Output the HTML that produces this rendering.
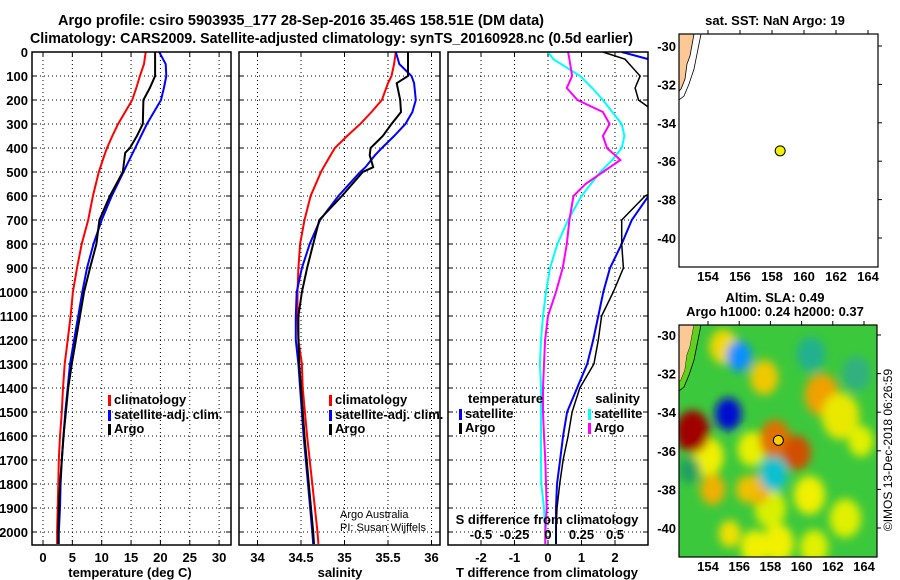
<!DOCTYPE html>
<html><head><meta charset="utf-8"><style>
body{margin:0;background:#fff;}
svg{display:block;font-family:"Liberation Sans",sans-serif;font-weight:bold;}
</style></head><body>
<svg id="c" width="900" height="580" xmlns="http://www.w3.org/2000/svg">
<rect width="900" height="580" fill="#fff"/>
<text x="58" y="25" font-size="15" textLength="486" lengthAdjust="spacingAndGlyphs">Argo profile: csiro 5903935_177 28-Sep-2016 35.46S 158.51E (DM data)</text>
<text x="30" y="43" font-size="15" textLength="603" lengthAdjust="spacingAndGlyphs">Climatology: CARS2009. Satellite-adjusted climatology: synTS_20160928.nc (0.5d earlier)</text>
<g id="g"></g>
</svg>
<script>
// ---- data ----
const depthT = [0,50,100,150,200,300,350,400,420,500,600,700,800,900,1000,1100,1200,1300,1400,1500,1600,1700,1800,1900,2000,2050];
const tempClim = [17.5,17.2,16.5,15.9,15.2,12.8,11.8,10.9,10.6,9.5,8.5,7.7,6.6,5.8,5.1,4.7,4.2,3.7,3.4,3.2,2.9,2.7,2.6,2.5,2.4,2.4];
const tempSat  = [19.8,20.9,21.0,20.6,20.1,17.7,16.7,15.7,15.3,13.7,11.7,10.0,8.6,7.5,6.7,6.0,5.3,4.6,4.2,3.8,3.5,3.2,3.0,2.9,2.7,2.7];
const tempArgo = [19.1,19.1,19.1,18.2,17.1,17.0,16.0,14.8,14.0,13.6,11.4,9.6,9.1,8.0,7.0,6.3,5.6,4.9,4.3,3.9,3.5,3.2,2.9,2.7,2.6,2.6];
const depthS = [0,50,100,130,200,250,300,350,400,430,480,500,600,700,800,900,1000,1100,1200,1300,1400,1600,1800,2000,2050];
const salClim = [35.59,35.57,35.54,35.5,35.43,35.31,35.18,35.03,34.89,34.84,34.76,34.73,34.61,34.54,34.49,34.47,34.46,34.46,34.47,34.51,34.52,34.57,34.63,34.69,34.7];
const salSat  = [35.59,35.63,35.77,35.8,35.82,35.78,35.7,35.57,35.43,35.35,35.24,35.18,34.93,34.72,34.6,34.51,34.45,34.44,34.44,34.47,34.49,34.53,34.58,34.63,34.64];
const salArgo = [35.73,35.73,35.73,35.6,35.64,35.65,35.54,35.44,35.3,35.29,35.33,35.21,34.97,34.71,34.64,34.57,34.51,34.47,34.47,34.48,34.5,34.54,34.59,34.64,34.65];
const depthD = [0,30,100,150,200,250,300,350,400,450,500,550,600,700,800,900,1000,1100,1200,1300,1400,1500,1600,1700,1800,1900,2000,2050];
const dTsat  = [2.2,3.0,3.5,3.6,3.6,3.6,3.6,3.6,3.6,3.6,3.6,3.6,3.0,2.5,2.2,1.85,1.65,1.5,1.35,1.17,0.87,0.57,0.45,0.36,0.27,0.24,0.24,0.24];
const dTargo = [1.64,2.3,2.75,2.6,2.7,3.2,3.6,3.6,3.6,3.6,3.6,3.6,2.9,2.2,2.2,2.25,1.95,1.6,1.5,1.37,0.95,0.72,0.6,0.45,0.35,0.27,0.24,0.24];
const dSsat  = [0,0.04,0.24,0.33,0.41,0.48,0.55,0.57,0.55,0.48,0.39,0.32,0.25,0.15,0.07,0.015,-0.015,-0.037,-0.052,-0.06,-0.052,-0.052,-0.052,-0.052,-0.05,-0.03,-0.02,-0.02];
const dSargo = [0.15,0.16,0.18,0.14,0.22,0.41,0.46,0.41,0.44,0.54,0.41,0.28,0.19,0.16,0.14,0.11,0.06,0,-0.022,-0.03,-0.037,-0.037,-0.03,-0.02,-0.015,-0.01,-0.02,-0.02];
const depthTicks = [0,100,200,300,400,500,600,700,800,900,1000,1100,1200,1300,1400,1500,1600,1700,1800,1900,2000];
const tempTicks = [0,5,10,15,20,25,30];
const salTicks = [34,34.5,35,35.5,36];
const salTickLabels = ["34","34.5","35","35.5","36"];
const dTTicks = [-2,-1,0,1,2];
const dSTicks = [-0.5,-0.25,0,0.25,0.5];
const dSTickLabels = ["-0.5","-0.25","0","0.25","0.5"];
const latTicks = [-30,-32,-34,-36,-38,-40];
const lonTicks = [154,156,158,160,162,164];
const floatLon = 158.51, floatLat = -35.46;
// SLA blobs: lon, lat, radius(deg), colour (drawn in order)
const blobLon = [154.0,156.8,158.0,160.5,162.8,157.0,155.0,157.6,161.3,162.5,154.3,157.2,160.8,163.8,158.5,155.4,156.5,152.8,153.0,155.3,156.0,158.3,159.7,158.2,160.6,163.5];
const blobLat = [-36.3,-35.9,-39.0,-38.3,-39.5,-41.0,-30.6,-32.2,-33.1,-34.2,-38.0,-38.0,-41.0,-35.5,-40.8,-40.3,-38.0,-37.0,-35.0,-34.1,-31.1,-35.4,-36.1,-37.2,-31.0,-32.0];
const blobR   = [1.0,0.9,1.0,1.0,1.0,0.9,0.9,0.9,1.1,1.2,0.8,0.8,0.9,0.8,1.0,0.7,0.7,0.7,1.1,0.85,0.8,1.0,0.9,0.9,0.9,0.9];
const blobC   = ["#f0f000","#e8f000","#d8f000","#f0f000","#e0f000","#f0f000","#f0d800","#f0c800","#f0a000","#e8e800","#f0b000","#f0b000","#e0f000","#e0f000","#f0f000","#f0e000","#f0c000","#20a060","#a00000","#0010d0","#1090ff","#e07000","#d05000","#10c0d0","#20b090","#30b080"];

const NS="http://www.w3.org/2000/svg";
const G=document.getElementById('g');
function el(tag,attrs,parent){const e=document.createElementNS(NS,tag);for(const k in attrs)e.setAttribute(k,attrs[k]);(parent||G).appendChild(e);return e;}
function txt(x,y,s,size,anchor,parent){const t=el('text',{x:x,y:y,'font-size':size,'text-anchor':anchor||'middle'},parent);t.textContent=s;return t;}

const TOP=52,BOT=545;
const yD=d=>TOP+d*0.24;

function panel(name,x0,x1,xs,ticks,labels,showDepth){
  const g=el('g',{});
  
  
  ticks.forEach(v=>{
    const X=xs(v);
    el('line',{x1:X,x2:X,y1:TOP,y2:BOT,stroke:'#000','stroke-width':1,'stroke-dasharray':'1,3'},g);
  });
  depthTicks.forEach(d=>{
    const Y=yD(d);
    el('line',{x1:x0,x2:x1,y1:Y,y2:Y,stroke:'#000','stroke-width':1,'stroke-dasharray':'1,3'},g);
    el('line',{x1:x0,x2:x0+5,y1:Y,y2:Y,stroke:'#000'},g);
    el('line',{x1:x1-5,x2:x1,y1:Y,y2:Y,stroke:'#000'},g);
    if(showDepth){const t=txt(28,Y+5,String(d),13,'end',g);
      
      }
  });
  if(labels){ticks.forEach((v,i)=>{
    const t=txt(xs(v),562,labels[i],13,'middle',g);
    
    
  });}
  ticks.forEach(v=>{const X=xs(v);
    el('line',{x1:X,x2:X,y1:BOT,y2:BOT-5,stroke:'#000'},g);
    el('line',{x1:X,x2:X,y1:TOP,y2:TOP+5,stroke:'#000'},g);});
  return g;
}
function line(g,depths,vals,xs,color,w,name,x0,x1){
  const cp='cp'+name;
  const c=el('clipPath',{id:cp},g);el('rect',{x:x0,y:TOP,width:x1-x0,height:BOT-TOP},c);
  const pts=depths.map((d,i)=>xs(vals[i]).toFixed(1)+','+yD(d).toFixed(1)).join(' ');
  const p=el('polyline',{points:pts,fill:'none',stroke:color,'stroke-width':w,'clip-path':'url(#'+cp+')'},g);
  
  
}
function frame(g,x0,x1){el('rect',{x:x0,y:TOP,width:x1-x0,height:BOT-TOP,fill:'none',stroke:'#000','stroke-width':1.5},g);}
function legend(g,x,y,color,label,name){
  el('rect',{x:x,y:y-9,width:3,height:11,fill:color},g);
  const t=txt(x+6,y,label,13,'start',g);
  
  
}

// Panel 1 temperature
const xT=v=>43+5.87*v;
const p1=panel('temperature-panel',32,231,xT,tempTicks,tempTicks.map(String),true);
line(p1,depthT,tempClim,xT,'#f00',2,'temp-climatology-line',32,231);
line(p1,depthT,tempSat,xT,'#00f',2,'temp-satellite-line',32,231);
line(p1,depthT,tempArgo,xT,'#000',2,'temp-argo-line',32,231);
frame(p1,32,231);
legend(p1,108,404,'#f00','climatology','legend-climatology');
legend(p1,108,419,'#00f','satellite-adj. clim.','legend-satellite');
legend(p1,108,433,'#000','Argo','legend-argo');
let t=txt(130,577,'temperature (deg C)',13,'middle',p1);



// Panel 2 salinity
const xS=v=>257.5+87*(v-34);
const p2=panel('salinity-panel',239,440,xS,salTicks,salTickLabels,false);
line(p2,depthS,salClim,xS,'#f00',2,'sal-climatology-line',239,440);
line(p2,depthS,salSat,xS,'#00f',2,'sal-satellite-line',239,440);
line(p2,depthS,salArgo,xS,'#000',2,'sal-argo-line',239,440);
frame(p2,239,440);
legend(p2,329,404,'#f00','climatology','legend-climatology');
legend(p2,329,419,'#00f','satellite-adj. clim.','legend-satellite');
legend(p2,329,433,'#000','Argo','legend-argo');
t=txt(340,518,'Argo Australia',11,'start',p2);t.setAttribute('font-weight','normal');


t=txt(340,531,'PI: Susan Wijffels',11,'start',p2);t.setAttribute('font-weight','normal');


t=txt(340,577,'salinity',13,'middle',p2);



// Panel 3 differences
const xDT=v=>548+33.5*v;
const xDS=v=>548+134*v;
const p3=panel('difference-panel',448,648,xDT,dTTicks,dTTicks.map(String),false);
line(p3,depthD,dSsat,xDS,'#0ff',2,'sal-diff-satellite-line',448,648);
line(p3,depthD,dSargo,xDS,'#f0f',2,'sal-diff-argo-line',448,648);
line(p3,depthD,dTsat,xDT,'#00f',2,'temp-diff-satellite-line',448,648);
line(p3,depthD,dTargo,xDT,'#000',1.5,'temp-diff-argo-line',448,648);
frame(p3,448,648);
t=txt(468,403,'temperature',13,'start',p3);


legend(p3,459,418,'#00f','satellite','legend-temp-satellite');
legend(p3,459,432,'#000','Argo','legend-temp-argo');
t=txt(640,403,'salinity',13,'end',p3);


legend(p3,588,418,'#0ff','satellite','legend-sal-satellite');
legend(p3,588,432,'#f0f','Argo','legend-sal-argo');
t=txt(547,524,'S difference from climatology',13,'middle',p3);


dSTicks.forEach((v,i)=>{const tt=txt(xDS(v),539,dSTickLabels[i],13,'middle',p3);
  
  });
t=txt(547,577,'T difference from climatology',13,'middle',p3);



// Maps
function map(name,x0,y0,x1,y1,lon154,lonPx,lat30,latPx,filled){
  const g=el('g',{});
  
  
  const X=lo=>lon154+(lo-154)*lonPx, Y=la=>lat30+(-30-la)*latPx;
  const cid='clip'+name;
  const c=el('clipPath',{id:cid},g);el('rect',{x:x0,y:y0,width:x1-x0,height:y1-y0},c);
  const inner=el('g',{'clip-path':'url(#'+cid+')'},g);
  if(filled){
    el('rect',{x:x0,y:y0,width:x1-x0,height:y1-y0,fill:'#3cc83c'},inner);
    const f=el('filter',{id:'blur'+name,x:'-50%',y:'-50%',width:'200%',height:'200%'},g);
    el('feGaussianBlur',{stdDeviation:4.5},f);
    const bg=el('g',{filter:'url(#blur'+name+')'},inner);
    blobLon.forEach((lo,i)=>{
      const r=blobR[i];
      const e=el('ellipse',{cx:X(lo),cy:Y(blobLat[i]),rx:r*lonPx,ry:r*latPx,fill:blobC[i]},bg);
      
      
    });
  }else{
    el('rect',{x:x0,y:y0,width:x1-x0,height:y1-y0,fill:'#fff'},inner);
  }
  const land=el('polygon',{points:`${x0},${y0} ${x0+15},${y0} ${x0+11},${y0+22} ${x0+8},${y0+30} ${x0+6},${y0+45} ${x0+2},${y0+55} ${x0},${y0+57}`,fill:'#fcc896',stroke:'#000','stroke-width':0.8},inner);
  
  
  if(filled) el('polygon',{points:`${x0+15},${y0} ${x0+22},${y0} ${x0+18},${y0+20} ${x0+15},${y0+35} ${x0+10},${y0+50} ${x0+5},${y0+62} ${x0},${y0+66} ${x0},${y0+57} ${x0+2},${y0+55} ${x0+6},${y0+45} ${x0+8},${y0+30} ${x0+11},${y0+22}`,fill:'#60d020'},inner);
  el('polyline',{points:`${x0+22},${y0} ${x0+18},${y0+20} ${x0+15},${y0+35} ${x0+10},${y0+50} ${x0+5},${y0+62} ${x0},${y0+66}`,fill:'none',stroke:'#000','stroke-width':0.8},inner);
  el('rect',{x:x0,y:y0,width:x1-x0,height:y1-y0,fill:'none',stroke:'#000','stroke-width':1.2},g);
  latTicks.forEach(la=>{const yy=Y(la);
    el('line',{x1:x1,x2:x1+4,y1:yy,y2:yy,stroke:'#000'},g);
    const tt=txt(x0-3,yy+5,String(la),13,'end',g);
    
    });
  lonTicks.forEach(lo=>{const xx=X(lo);
    el('line',{x1:xx,x2:xx,y1:y0,y2:y0-4,stroke:'#000'},g);
    const tt=txt(xx,y1+14,String(lo),13,'middle',g);
    
    });
  const pt=el('circle',{cx:X(floatLon),cy:Y(floatLat),r:5,fill:filled?'#f8d000':'#f0f000',stroke:'#000','stroke-width':1},g);
  
  
  return g;
}
const m1=map('sst-map',679,34,878,267,708,16,46,19.2,false);
t=txt(775,25,'sat. SST: NaN Argo: 19',13,'middle',m1);


const m2=map('sla-map',679,325,877,557,708,15.6,335,19.3,true);
t=txt(775,302,'Altim. SLA: 0.49',13,'middle',m2);


t=txt(775,316,'Argo h1000: 0.24 h2000: 0.37',13,'middle',m2);


t=txt(0,0,'©IMOS 13-Dec-2018 06:26:59',12,'middle',m2);
t.setAttribute('font-weight','normal');
t.setAttribute('transform','translate(892,450) rotate(-90)');


</script>
</body></html>
